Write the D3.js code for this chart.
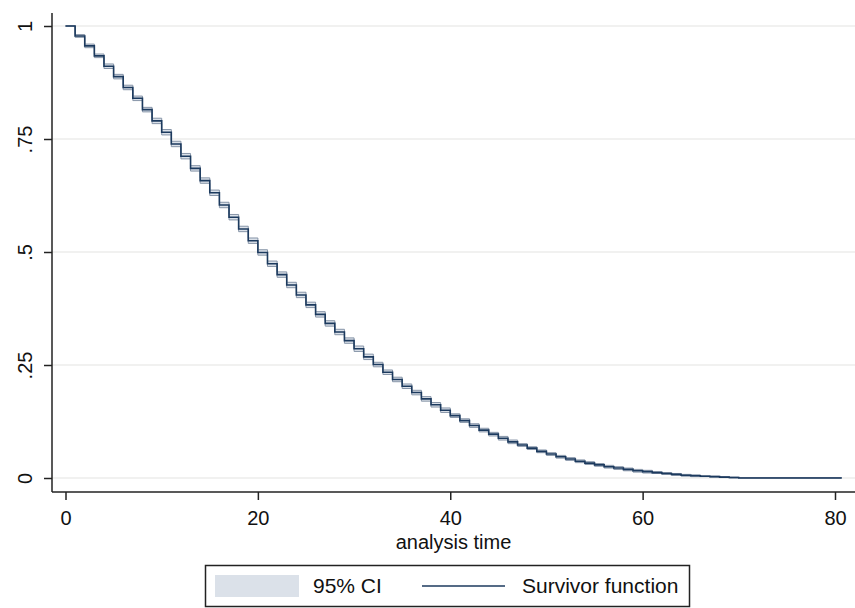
<!DOCTYPE html>
<html>
<head>
<meta charset="utf-8">
<script src="https://cdn.jsdelivr.net/npm/d3@7"></script>
<style>
  body { margin: 0; background: #fff; }
  svg text { font-family: "Liberation Sans", Arial, sans-serif; fill: #111; }
</style>
</head>
<body>
<svg class="vis" width="855" height="608"></svg>
<script>

// analysis time (step points), last one is end of follow-up
const times = [0,1,2,3,4,5,6,7,8,9,10,11,12,13,14,15,16,17,18,19,20,21,22,23,24,25,26,27,28,29,
  30,31,32,33,34,35,36,37,38,39,40,41,42,43,44,45,46,47,48,49,50,51,52,53,54,55,56,57,58,59,
  60,61,62,63,64,65,66,67,68,69,70,80.7];

const surv = [1.000,0.978,0.956,0.934,0.911,0.888,0.864,0.840,0.815,0.790,
  0.765,0.739,0.712,0.685,0.658,0.631,0.604,0.577,0.551,0.525,
  0.499,0.474,0.450,0.427,0.405,0.383,0.362,0.342,0.323,0.304,
  0.286,0.268,0.251,0.234,0.218,0.203,0.189,0.175,0.162,0.150,
  0.138,0.127,0.116,0.106,0.097,0.088,0.080,0.073,0.066,0.059,
  0.053,0.047,0.042,0.037,0.033,0.029,0.025,0.022,0.019,0.016,
  0.014,0.012,0.010,0.008,0.006,0.005,0.004,0.003,0.002,0.001,
  0.000,0.000];

const ciUpper = [1.000,0.981,0.960,0.938,0.916,0.893,0.869,0.845,0.820,0.796,
  0.771,0.745,0.718,0.691,0.664,0.637,0.610,0.583,0.557,0.531,
  0.505,0.480,0.456,0.433,0.411,0.389,0.368,0.348,0.329,0.310,
  0.292,0.274,0.256,0.239,0.223,0.208,0.194,0.180,0.167,0.155,
  0.142,0.131,0.120,0.110,0.101,0.092,0.084,0.076,0.069,0.062,
  0.056,0.050,0.045,0.040,0.036,0.032,0.028,0.025,0.022,0.019,
  0.017,0.014,0.012,0.010,0.008,0.007,0.005,0.004,0.003,0.002,
  0.001,0.001];

const ciLower = [1.000,0.975,0.952,0.930,0.906,0.883,0.859,0.835,0.810,0.784,
  0.759,0.733,0.706,0.679,0.652,0.625,0.598,0.571,0.545,0.519,
  0.493,0.468,0.444,0.421,0.399,0.377,0.356,0.336,0.317,0.298,
  0.280,0.262,0.246,0.229,0.213,0.198,0.184,0.170,0.157,0.145,
  0.134,0.123,0.112,0.102,0.093,0.084,0.076,0.070,0.063,0.056,
  0.050,0.044,0.039,0.034,0.030,0.026,0.022,0.019,0.016,0.013,
  0.011,0.010,0.008,0.006,0.004,0.003,0.003,0.002,0.001,0.000,
  0.000,0.000];

const xTicks = [0, 20, 40, 60, 80];
const yTicks = [0, 0.25, 0.5, 0.75, 1];
const yTickLabels = ["0", ".25", ".5", ".75", "1"];
const xTitle = "analysis time";
const legendLabels = ["95% CI", "Survivor function"];

const v = {

    frame : { left : 52, right : 855, top : 13, bottom : 492 },

    colors : {
        band : "#dbe1e9",
        bandEdge : "#8795a8",
        line : "#1c3a5e",
        grid : "#ededeb",
        axis : "#222"
    },

    vis : {

        svg : 'svg.vis',

        draw : () => {

            const svg = d3.select(v.vis.svg);
            const f = v.frame;
            const c = v.colors;

            const x = d3.scaleLinear().domain([0, 80]).range([65.5, 835]);
            const y = d3.scaleLinear().domain([0, 1]).range([478, 26]);

            const rows = times.map((t, i) => ({ t : t, s : surv[i], lo : ciLower[i], hi : ciUpper[i] }));

            // gridlines
            svg.append("g")
              .selectAll("line")
              .data(yTicks)
              .join("line")
              .attr("x1", f.left)
              .attr("x2", f.right)
              .attr("y1", d => y(d))
              .attr("y2", d => y(d))
              .attr("stroke", c.grid)
              .attr("stroke-width", 1.5);

            // confidence band
            const area = d3.area()
              .x(d => x(d.t))
              .y0(d => y(d.lo))
              .y1(d => y(d.hi))
              .curve(d3.curveStepAfter);

            svg.append("path")
              .datum(rows)
              .attr("d", area)
              .attr("fill", c.band);

            ["lo", "hi"].forEach(k => {
                svg.append("path")
                  .datum(rows)
                  .attr("d", d3.line().x(d => x(d.t)).y(d => y(d[k])).curve(d3.curveStepAfter))
                  .attr("fill", "none")
                  .attr("stroke", c.bandEdge)
                  .attr("stroke-width", 1);
            });

            // survivor function
            svg.append("path")
              .datum(rows)
              .attr("d", d3.line().x(d => x(d.t)).y(d => y(d.s)).curve(d3.curveStepAfter))
              .attr("fill", "none")
              .attr("stroke", c.line)
              .attr("stroke-width", 1.6);

            // y axis
            const yAxis = d3.axisLeft(y)
              .tickValues(yTicks)
              .tickFormat((d, i) => yTickLabels[i])
              .tickSizeInner(8)
              .tickSizeOuter(0);

            const gy = svg.append("g")
              .attr("transform", `translate(${f.left},0)`)
              .call(yAxis);
            gy.select(".domain").remove();
            gy.selectAll(".tick line").attr("stroke", c.axis).attr("stroke-width", 1.5);
            gy.selectAll(".tick text")
              .attr("x", 0).attr("y", 0).attr("dy", 0)
              .attr("transform", "translate(-20,0) rotate(-90)")
              .attr("text-anchor", "middle")
              .style("font-size", "20px")
              .style("font-family", "'Liberation Sans', Arial, sans-serif");

            svg.append("line")
              .attr("x1", f.left).attr("x2", f.left)
              .attr("y1", f.top).attr("y2", f.bottom)
              .attr("stroke", c.axis).attr("stroke-width", 1.5);

            // x axis
            const xAxis = d3.axisBottom(x)
              .tickValues(xTicks)
              .tickSizeInner(8)
              .tickSizeOuter(0)
              .tickPadding(4);

            const gx = svg.append("g")
              .attr("transform", `translate(0,${f.bottom})`)
              .call(xAxis);
            gx.select(".domain").remove();
            gx.selectAll(".tick line").attr("stroke", c.axis).attr("stroke-width", 1.5);
            gx.selectAll(".tick text")
              .attr("y", 33).attr("dy", 0)
              .style("font-size", "20px")
              .style("font-family", "'Liberation Sans', Arial, sans-serif");

            svg.append("line")
              .attr("x1", f.left).attr("x2", f.right)
              .attr("y1", f.bottom).attr("y2", f.bottom)
              .attr("stroke", c.axis).attr("stroke-width", 1.5);

            svg.append("text")
              .attr("x", (f.left + f.right) / 2)
              .attr("y", 549)
              .attr("text-anchor", "middle")
              .style("font-size", "20px")
              .text(xTitle);

            // legend
            const lg = svg.append("g");
            lg.append("rect")
              .attr("x", 205.5).attr("y", 565.5)
              .attr("width", 484).attr("height", 41)
              .attr("fill", "#fff")
              .attr("stroke", c.axis).attr("stroke-width", 1.5);
            lg.append("rect")
              .attr("x", 215).attr("y", 575)
              .attr("width", 84).attr("height", 22)
              .attr("fill", c.band);
            lg.append("text")
              .attr("x", 313).attr("y", 593)
              .style("font-size", "21px")
              .text(legendLabels[0]);
            lg.append("line")
              .attr("x1", 422).attr("x2", 505)
              .attr("y1", 586).attr("y2", 586)
              .attr("stroke", c.line).attr("stroke-width", 1.6);
            lg.append("text")
              .attr("x", 522).attr("y", 593)
              .style("font-size", "21px")
              .text(legendLabels[1]);

        }

    },

    ctrl : {

        init : () => {
            v.vis.draw();
        }

    }

}

v.ctrl.init();
</script>
</body>
</html>
